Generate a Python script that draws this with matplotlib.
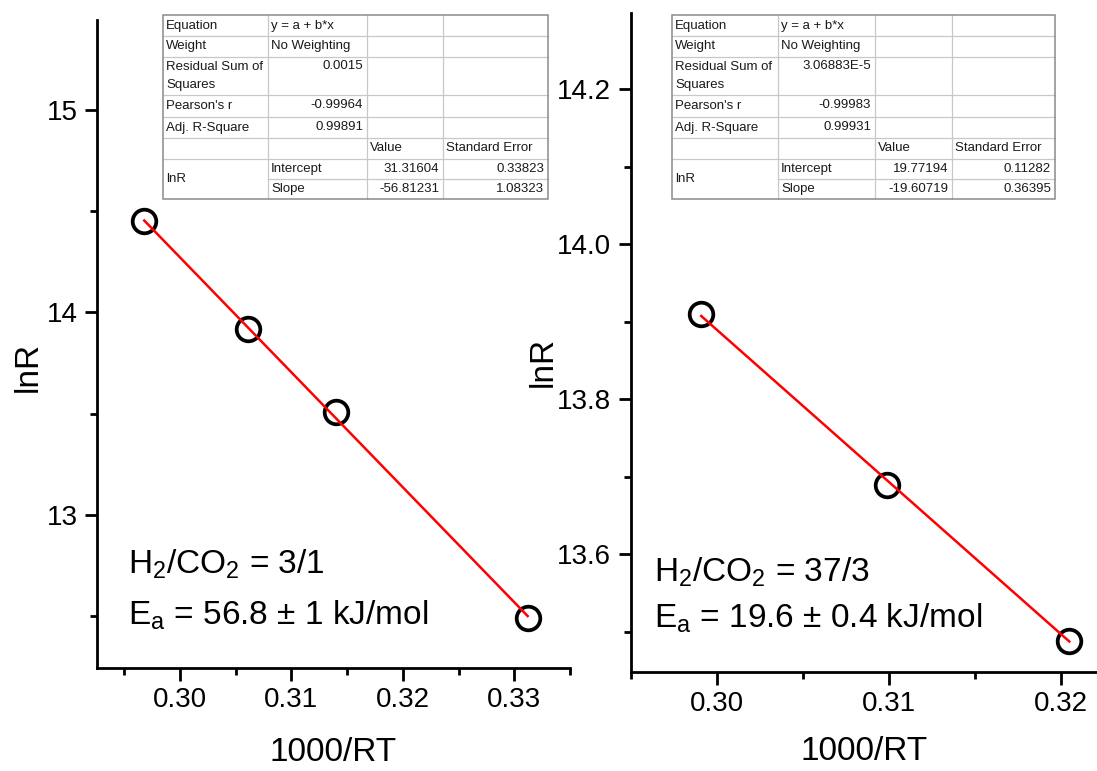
import matplotlib
matplotlib.use("Agg")
import matplotlib.pyplot as plt
from matplotlib.patches import Rectangle
from matplotlib.lines import Line2D
from matplotlib.ticker import MultipleLocator, FormatStrFormatter

plt.rcParams['font.family'] = ['Liberation Sans', 'DejaVu Sans']
plt.rcParams['mathtext.fontset'] = 'custom'
plt.rcParams['mathtext.rm'] = 'Liberation Sans'
plt.rcParams['mathtext.it'] = 'Liberation Sans:italic'

# ---------------- data ----------------
x_left = [0.2968, 0.3061, 0.3140, 0.3312]
y_left = [14.45, 13.92, 13.51, 12.49]
fit_left = (31.31604, -56.81231)
x_right = [0.2991, 0.3099, 0.3205]
y_right = [13.91, 13.69, 13.488]
fit_right = (19.77194, -19.60719)

xticks_left = [0.30, 0.31, 0.32, 0.33]
yticks_left = [13, 14, 15]
xticks_right = [0.30, 0.31, 0.32]
yticks_right = [13.6, 13.8, 14.0, 14.2]

label_left_1 = r"H$_2$/CO$_2$ = 3/1"
label_left_2 = r"E$_\mathrm{a}$ = 56.8 ± 1 kJ/mol"
label_right_1 = r"H$_2$/CO$_2$ = 37/3"
label_right_2 = r"E$_\mathrm{a}$ = 19.6 ± 0.4 kJ/mol"

table_left = {
    "rss": "0.0015", "pearson": "-0.99964", "adjr2": "0.99891",
    "icpt": "31.31604", "icpt_se": "0.33823",
    "slope": "-56.81231", "slope_se": "1.08323",
}
table_right = {
    "rss": "3.06883E-5", "pearson": "-0.99983", "adjr2": "0.99931",
    "icpt": "19.77194", "icpt_se": "0.11282",
    "slope": "-19.60719", "slope_se": "0.36395",
}

W, H = 1097, 771
fig = plt.figure(figsize=(W / 100, H / 100), dpi=100)


def fx(x):
    return x / W


def fy(y):
    return 1 - y / H


def style_axes(ax):
    for s in ['top', 'right']:
        ax.spines[s].set_visible(False)
    for s in ['left', 'bottom']:
        ax.spines[s].set_linewidth(2.0)
    ax.tick_params(which='major', direction='out', length=9, width=2.0,
                   labelsize=20, pad=5)
    ax.tick_params(which='minor', direction='out', length=5, width=2.0)


# ---------------- left panel ----------------
axL = fig.add_axes([fx(97), fy(668), fx(570) - fx(97), fy(20) - fy(668)])
style_axes(axL)
axL.set_xlim(0.29256, 0.335)
axL.set_ylim(12.243, 15.445)
axL.set_xticks(xticks_left)
axL.set_yticks(yticks_left)
axL.xaxis.set_minor_locator(MultipleLocator(0.005))
axL.yaxis.set_minor_locator(MultipleLocator(0.5))
axL.xaxis.set_major_formatter(FormatStrFormatter('%.2f'))
axL.yaxis.set_major_formatter(FormatStrFormatter('%d'))
axL.plot(x_left, y_left, 'o', ms=17, mfc='none', mec='black', mew=2.7, zorder=3,
         clip_on=False)
xl = [x_left[0], x_left[-1]]
axL.plot(xl, [fit_left[0] + fit_left[1] * v for v in xl], color='red', lw=1.8, zorder=4)
axL.set_xlabel("1000/RT", fontsize=24, labelpad=17)
axL.set_ylabel("lnR", fontsize=24)
axL.yaxis.set_label_coords(-0.112, 0.4645)
fig.text(fx(128), fy(574), label_left_1, fontsize=24, va='baseline', ha='left')
fig.text(fx(128), fy(625), label_left_2, fontsize=24, va='baseline', ha='left')

# ---------------- right panel ----------------
axR = fig.add_axes([fx(630.7), fy(672), 1 - fx(630.7), fy(13) - fy(672)])
style_axes(axR)
axR.set_xlim(0.295, 0.32211)
axR.set_ylim(13.4485, 14.298)
axR.set_xticks(xticks_right)
axR.set_yticks(yticks_right)
axR.xaxis.set_minor_locator(MultipleLocator(0.005))
axR.yaxis.set_minor_locator(MultipleLocator(0.1))
axR.xaxis.set_major_formatter(FormatStrFormatter('%.2f'))
axR.yaxis.set_major_formatter(FormatStrFormatter('%.1f'))
axR.plot(x_right, y_right, 'o', ms=17, mfc='none', mec='black', mew=2.7, zorder=3,
         clip_on=False)
xr = [x_right[0], x_right[-1]]
axR.plot(xr, [fit_right[0] + fit_right[1] * v for v in xr], color='red', lw=1.8, zorder=4)
axR.set_xlabel("1000/RT", fontsize=24, labelpad=13)
axR.set_ylabel("lnR", fontsize=24)
axR.yaxis.set_label_coords(-0.155, 0.470)
fig.text(fx(654), fy(582), label_right_1, fontsize=24, va='baseline', ha='left')
fig.text(fx(654), fy(628), label_right_2, fontsize=24, va='baseline', ha='left')


# ---------------- fit tables ----------------
def draw_table(cols, vals):
    rows = [15, 36, 57, 95, 117, 138, 158.5, 179, 199]
    x0, x4 = cols[0], cols[-1]
    y0, y8 = rows[0], rows[-1]
    fig.add_artist(Rectangle((fx(x0), fy(y8)), fx(x4) - fx(x0), fy(y0) - fy(y8),
                             transform=fig.transFigure, facecolor='white',
                             edgecolor='none', zorder=5))
    inner = '#c8c8c8'
    for i, yy in enumerate(rows[1:-1], start=1):
        xs = x0 if i != 7 else cols[1]
        fig.add_artist(Line2D([fx(xs), fx(x4)], [fy(yy), fy(yy)], transform=fig.transFigure,
                              color=inner, lw=0.9, zorder=6))
    for xx in cols[1:-1]:
        fig.add_artist(Line2D([fx(xx), fx(xx)], [fy(y0), fy(y8)], transform=fig.transFigure,
                              color=inner, lw=0.9, zorder=6))
    fig.add_artist(Rectangle((fx(x0), fy(y8)), fx(x4) - fx(x0), fy(y0) - fy(y8),
                             transform=fig.transFigure, facecolor='none',
                             edgecolor='#8a8a8a', lw=1.1, zorder=7))
    fs = 9.5
    tc = '#1a1a1a'

    def cell_text(x, y, s, ha='left', va='center'):
        fig.text(fx(x), fy(y), s, fontsize=fs, ha=ha, va=va, color=tc, zorder=8)

    def mid(i):
        return (rows[i] + rows[i + 1]) / 2

    L = lambda c: cols[c] + 3
    R = lambda c: cols[c + 1] - 4
    cell_text(L(0), mid(0), "Equation")
    cell_text(L(1), mid(0), "y = a + b*x")
    cell_text(L(0), mid(1), "Weight")
    cell_text(L(1), mid(1) - 1, "No Weighting")
    cell_text(L(0), rows[2] + 10, "Residual Sum of")
    cell_text(L(0), rows[2] + 28, "Squares")
    cell_text(R(1), rows[2] + 9, vals["rss"], ha='right')
    cell_text(L(0), mid(3), "Pearson's r")
    cell_text(R(1), mid(3) - 1, vals["pearson"], ha='right')
    cell_text(L(0), mid(4), "Adj. R-Square")
    cell_text(R(1), mid(4) - 1, vals["adjr2"], ha='right')
    cell_text(L(2), mid(5), "Value")
    cell_text(L(3), mid(5), "Standard Error")
    cell_text(L(0), (rows[6] + rows[8]) / 2, "lnR")
    cell_text(L(1), mid(6), "Intercept")
    cell_text(R(2), mid(6), vals["icpt"], ha='right')
    cell_text(R(3), mid(6), vals["icpt_se"], ha='right')
    cell_text(L(1), mid(7), "Slope")
    cell_text(R(2), mid(7), vals["slope"], ha='right')
    cell_text(R(3), mid(7), vals["slope_se"], ha='right')


draw_table([163, 268, 367, 443, 548], table_left)
draw_table([672, 778, 875, 952, 1055], table_right)

fig.savefig("out.png", dpi=100)
